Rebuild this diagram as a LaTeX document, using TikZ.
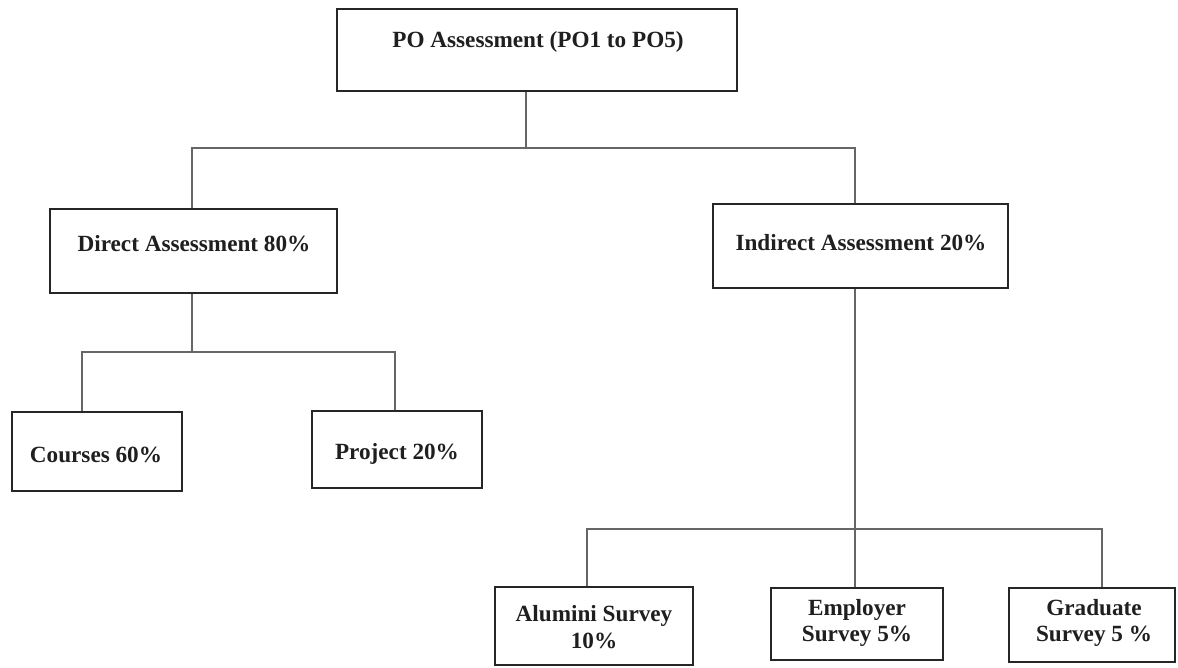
\documentclass[tikz,border=0pt]{standalone}
\usepackage{fontspec}
\setmainfont{Liberation Serif}
\begin{document}
\begin{tikzpicture}[x=1pt,y=-1pt,
  box/.style={draw=black!85, line width=2.2pt, fill=white, rectangle, inner sep=0pt},
  lbl/.style={font=\bfseries\fontsize{23.2}{26.5}\selectfont, text=black!88, align=center, inner sep=0pt},
  conn/.style={draw=black!60, line width=1.6pt}]
\useasboundingbox (0,0) rectangle (1178,667);
% boxes
\node[box, minimum width=400, minimum height=82] (top) at (537,50) {};
\node[box, minimum width=287, minimum height=84] (direct) at (193.5,251) {};
\node[box, minimum width=295, minimum height=84] (indirect) at (860.5,246) {};
\node[box, minimum width=170, minimum height=79] (courses) at (97,451.5) {};
\node[box, minimum width=170, minimum height=77] (project) at (397,449.5) {};
\node[box, minimum width=198, minimum height=78] (alumini) at (594,626) {};
\node[box, minimum width=172, minimum height=72] (employer) at (857,624) {};
\node[box, minimum width=166, minimum height=74] (graduate) at (1092,625) {};
% labels
\node[lbl] (ttop) at (538,42) {PO Assessment (PO1 to PO5)};
\node[lbl] (tdirect) at (194,244) {Direct Assessment 80\%};
\node[lbl] (tindirect) at (861,243) {Indirect Assessment 20\%};
\node[lbl] (tcourses) at (96,455) {Courses 60\%};
\node[lbl] (tproject) at (397,454) {Project 20\%};
\node[lbl] (talumini) at (594,627) {Alumini Survey\\10\%};
\node[lbl] (temployer) at (857,623) {Employer\\Survey 5\%};
\node[lbl] (tgraduate) at (1094,623) {Graduate\\Survey 5 \%};
% junctions
\coordinate (tj) at (526,148);
\coordinate (tl) at (192,148);
\coordinate (tr) at (855,148);
\coordinate (dj) at (192,352);
\coordinate (dl) at (82,352);
\coordinate (dr) at (395,352);
\coordinate (ij) at (855,529);
\coordinate (il) at (587,529);
\coordinate (ir) at (1102,529);
% connectors
\draw[conn] (top.south -| tj) -- (tj);
\draw[conn] (direct.north -| tl) -- (tl) -- (tr) -- (indirect.north -| tr);
\draw[conn] (direct.south -| dj) -- (dj);
\draw[conn] (courses.north -| dl) -- (dl) -- (dr) -- (project.north -| dr);
\draw[conn] (indirect.south -| ij) -- (employer.north -| ij);
\draw[conn] (alumini.north -| il) -- (il) -- (ir) -- (graduate.north -| ir);
\end{tikzpicture}
\end{document}
